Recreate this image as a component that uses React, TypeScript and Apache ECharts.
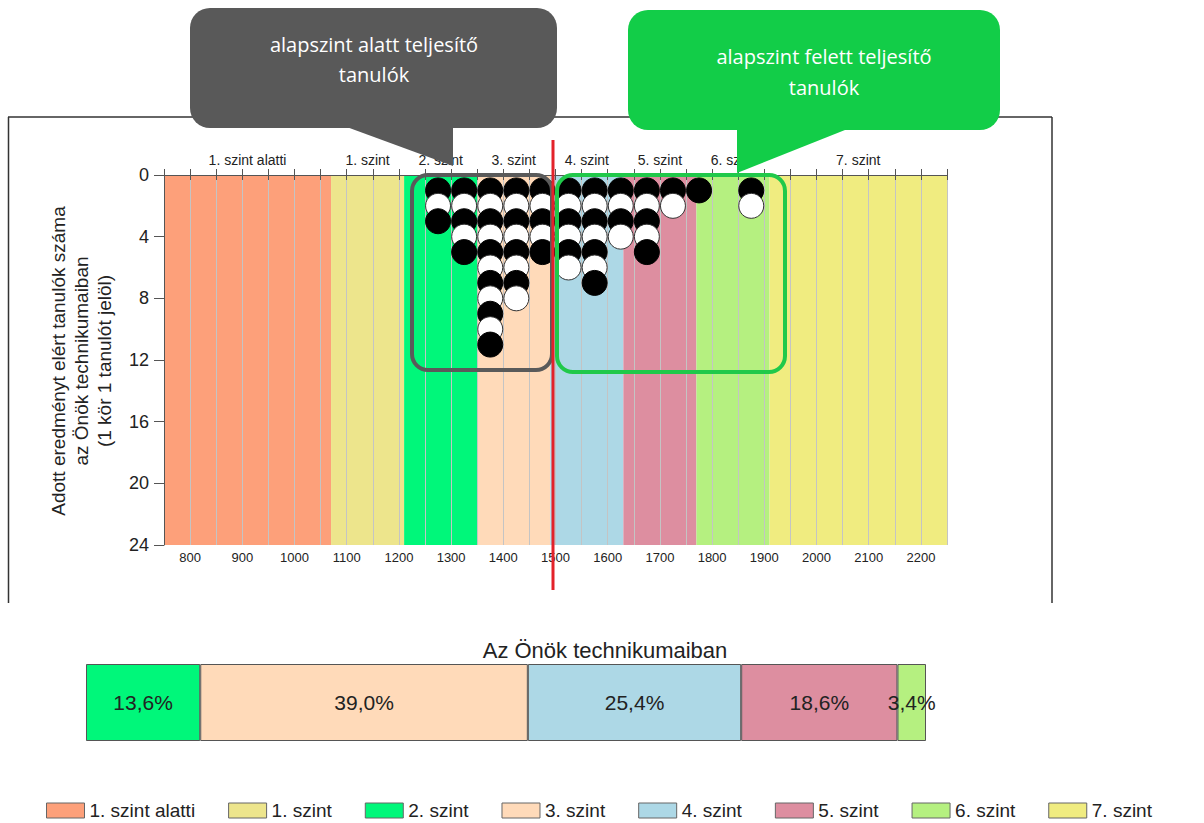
import React, { useEffect, useRef } from "react";
import * as echarts from "echarts";

const xMin = 750;
const xMax = 2250;
const xStep = 50;
const yMax = 24;
const yStep = 4;

const levelNames = ["1. szint alatti", "1. szint", "2. szint", "3. szint", "4. szint", "5. szint", "6. szint", "7. szint"];
const levelEdges = [750, 1070, 1210, 1350, 1490, 1630, 1770, 1910, 2250];
const levelColors = ["#fda07a", "#ede58c", "#00f77a", "#ffdab9", "#add8e6", "#dd8ea0", "#b5f080", "#f0ec80"];

// student dots: bin centres and number of students per bin
const dotColumns = [1275, 1325, 1375, 1425, 1475, 1525, 1575, 1625, 1675, 1725, 1775, 1875];
const dotCounts = [3, 5, 11, 8, 5, 6, 7, 4, 5, 2, 1, 2];

// distribution bar
const shareLevels = ["2. szint", "3. szint", "4. szint", "5. szint", "6. szint"];
const shareValues = [13.6, 39.0, 25.4, 18.6, 3.4];

const FONT = "'Liberation Sans', Arial, sans-serif";

function buildOption() {
  const bandSeries = levelNames.map((name, i) => ({
    name,
    type: "custom",
    xAxisIndex: 0,
    yAxisIndex: 0,
    z: 1,
    silent: true,
    itemStyle: { color: levelColors[i] },
    data: [[levelEdges[i], levelEdges[i + 1]]],
    renderItem: (params: any, api: any) => {
      const s = api.coord([api.value(0), 0]);
      const e = api.coord([api.value(1), yMax]);
      return {
        type: "group",
        children: [
          {
            type: "rect",
            shape: { x: s[0], y: s[1], width: e[0] - s[0], height: e[1] - s[1] },
            style: { fill: levelColors[i] },
          },
          {
            type: "text",
            x: (s[0] + e[0]) / 2,
            y: s[1] - 15,
            style: {
              text: name,
              fill: "#222",
              font: "14px " + FONT,
              align: "center",
              verticalAlign: "middle",
            },
          },
        ],
      };
    },
  }));

  const dots: any[] = [];
  dotColumns.forEach((x, i) => {
    for (let k = 1; k <= dotCounts[i]; k++) {
      const dark = k % 2 === 1;
      dots.push({
        value: [x, k],
        itemStyle: {
          color: dark ? "#000" : "#fff",
          borderColor: dark ? "#000" : "#333",
          borderWidth: 1,
          opacity: 1,
        },
      });
    }
  });

  const shareSeries = shareLevels.map((name, i) => ({
    name,
    type: "bar",
    stack: "share",
    xAxisIndex: 2,
    yAxisIndex: 1,
    barWidth: "100%",
    data: [shareValues[i]],
    itemStyle: {
      color: levelColors[levelNames.indexOf(name)],
      borderColor: "#555",
      borderWidth: 1,
    },
    label: {
      show: true,
      position: "inside",
      color: "#222",
      fontSize: 21,
      fontFamily: FONT,
      formatter: (p: any) => p.value.toFixed(1).replace(".", ",") + "%",
    },
  }));

  return {
    animation: false,
    backgroundColor: "#fff",
    textStyle: { fontFamily: FONT },
    title: {
      text: "Az Önök technikumaiban",
      left: 600,
      textAlign: "center",
      top: 634,
      textStyle: { fontSize: 22, fontWeight: "normal", color: "#222", fontFamily: FONT },
    },
    legend: {
      data: levelNames,
      left: 46,
      top: 801,
      padding: 0,
      icon: "rect",
      itemWidth: 38,
      itemHeight: 15,
      itemGap: 33,
      itemStyle: { borderColor: "#666", borderWidth: 1 },
      textStyle: { fontSize: 19, color: "#222", fontFamily: FONT },
      selectedMode: false,
    },
    grid: [
      { left: 164, right: 257, top: 175, bottom: 278, containLabel: false },
      { left: 86, width: 840, top: 664, height: 77, containLabel: false },
    ],
    xAxis: [
      {
        type: "value",
        gridIndex: 0,
        position: "bottom",
        min: xMin,
        max: xMax,
        interval: xStep,
        z: 2,
        axisLine: { show: true, lineStyle: { color: "#555", width: 1 } },
        axisTick: { show: true, length: 5, lineStyle: { color: "#555" } },
        axisLabel: {
          fontSize: 13,
          color: "#222",
          margin: 6,
          formatter: (v: number) => (v % 100 === 0 ? String(v) : ""),
        },
        splitLine: { show: true, lineStyle: { color: "#c4c4c4", width: 1 } },
      },
      {
        type: "value",
        gridIndex: 0,
        position: "top",
        min: xMin,
        max: xMax,
        interval: xStep,
        z: 2,
        axisLine: { show: true, lineStyle: { color: "#555", width: 1 } },
        axisTick: { show: true, length: 6, lineStyle: { color: "#555" } },
        axisLabel: { show: false },
        splitLine: { show: false },
      },
      {
        type: "value",
        gridIndex: 1,
        min: 0,
        max: 100,
        show: false,
      },
    ],
    yAxis: [
      {
        type: "value",
        gridIndex: 0,
        min: 0,
        max: yMax,
        interval: yStep,
        inverse: true,
        z: 2,
        axisLine: { show: true, lineStyle: { color: "#555", width: 1 } },
        axisTick: { show: true, length: 10, lineStyle: { color: "#555" } },
        axisLabel: { fontSize: 18, color: "#222", margin: 15 },
        splitLine: { show: false },
      },
      {
        type: "category",
        gridIndex: 1,
        data: ["Az Önök technikumaiban"],
        show: false,
      },
    ],
    series: [
      ...bandSeries,
      {
        name: "tanulók",
        type: "scatter",
        xAxisIndex: 0,
        yAxisIndex: 0,
        z: 3,
        symbol: "circle",
        symbolSize: 25,
        itemStyle: { opacity: 1 },
        data: dots,
      },
      ...shareSeries,
    ],
    graphic: {
      elements: [
        { type: "line", z: 100, shape: { x1: 8, y1: 117, x2: 1052, y2: 117 }, style: { stroke: "#333", lineWidth: 1.5 } },
        { type: "line", z: 100, shape: { x1: 8.5, y1: 117, x2: 8.5, y2: 603 }, style: { stroke: "#333", lineWidth: 1.5 } },
        { type: "line", z: 100, shape: { x1: 1052, y1: 117, x2: 1052, y2: 603 }, style: { stroke: "#333", lineWidth: 1.5 } },
        {
          type: "text",
          z: 100,
          x: 81,
          y: 361,
          rotation: Math.PI / 2,
          style: {
            text: "Adott eredményt elért tanulók száma\naz Önök technikumaiban\n(1 kör 1 tanulót jelöl)",
            fill: "#222",
            font: "19px " + FONT,
            lineHeight: 23,
            align: "center",
            verticalAlign: "middle",
          },
        },
        {
          type: "rect",
          z: 101,
          shape: { x: 412, y: 175, width: 140, height: 195, r: 16 },
          style: { fill: "none", stroke: "#5a5a5a", lineWidth: 4 },
        },
        {
          type: "rect",
          z: 101,
          shape: { x: 557, y: 175, width: 228, height: 197, r: 16 },
          style: { fill: "none", stroke: "#20c94a", lineWidth: 4 },
        },
        { type: "line", z: 102, shape: { x1: 553, y1: 140, x2: 553, y2: 590 }, style: { stroke: "#e3222a", lineWidth: 3 } },
        {
          type: "rect",
          z: 103,
          shape: { x: 190, y: 8, width: 367, height: 120, r: 20 },
          style: { fill: "#595959" },
        },
        {
          type: "polygon",
          z: 103,
          shape: { points: [[344, 126], [453, 126], [453, 166]] },
          style: { fill: "#595959" },
        },
        {
          type: "text",
          z: 104,
          x: 374,
          y: 59,
          style: {
            text: "alapszint alatt teljesítő\ntanulók",
            fill: "#fff",
            font: "20px 'Open Sans', sans-serif",
            lineHeight: 30,
            align: "center",
            verticalAlign: "middle",
          },
        },
        {
          type: "rect",
          z: 103,
          shape: { x: 628, y: 10, width: 372, height: 120, r: 20 },
          style: { fill: "#12cd48" },
        },
        {
          type: "polygon",
          z: 103,
          shape: { points: [[737, 128], [850, 128], [737, 173]] },
          style: { fill: "#12cd48" },
        },
        {
          type: "text",
          z: 104,
          x: 824,
          y: 72,
          style: {
            text: "alapszint felett teljesítő\ntanulók",
            fill: "#fff",
            font: "20px 'Open Sans', sans-serif",
            lineHeight: 31,
            align: "center",
            verticalAlign: "middle",
          },
        },
      ],
    },
  };
}

export default function App() {
  const ref = useRef<HTMLDivElement>(null);
  useEffect(() => {
    if (!ref.current) return;
    const chart = echarts.init(ref.current, null, { renderer: "svg" });
    chart.setOption(buildOption() as any);
    return () => chart.dispose();
  }, []);
  return (
    <div
      ref={ref}
      style={{ position: "fixed", left: 0, top: 0, width: 1204, height: 823, background: "#fff" }}
    />
  );
}
